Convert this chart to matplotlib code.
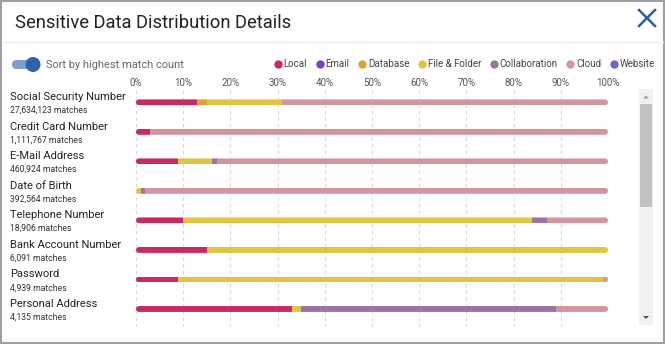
import matplotlib.pyplot as plt
import matplotlib.transforms as mtransforms
from matplotlib.patches import FancyBboxPatch, Rectangle, Circle, Polygon
from matplotlib.lines import Line2D
import numpy as np

plt.rcParams['font.family'] = ['Roboto', 'DejaVu Sans']

# Data
categories = ['Social Security Number', 'Credit Card Number', 'E-Mail Address', 'Date of Birth',
              'Telephone Number', 'Bank Account Number', 'Password', 'Personal Address']
match_counts = [27634123, 1111767, 460924, 392564, 18906, 6091, 4939, 4135]

sources = ['Local', 'Email', 'Database', 'File & Folder', 'Collaboration', 'Cloud', 'Website']
local = [12.9, 3.0, 9.0, 0.0, 10.0, 15.0, 9.0, 33.0]
email = [0, 0, 0, 0, 0, 0, 0, 0]
database = [2.1, 0, 0, 0, 0, 0, 0, 0]
file_folder = [15.9, 0, 7.1, 1.0, 74.0, 85.0, 90.0, 2.0]
collaboration = [0, 0, 1.0, 1.0, 3.1, 0, 0, 54.0]
cloud = [69.1, 97.0, 82.9, 98.0, 12.9, 0, 1.0, 11.0]
website = [0, 0, 0, 0, 0, 0, 0, 0]

ticks = [0, 10, 20, 30, 40, 50, 60, 70, 80, 90, 100]

colors = ['#c92a5f', '#7b3fc8', '#d9a43c', '#e0c442', '#9c74a0', '#d495a0', '#6467d0']
series = [local, email, database, file_folder, collaboration, cloud, website]

W, H = 665, 344
fig = plt.figure(figsize=(W / 100, H / 100), dpi=100)

# overlay in pixel coords for the panel chrome
bg = fig.add_axes([0, 0, 1, 1], zorder=0)
bg.set_xlim(0, W)
bg.set_ylim(H, 0)
bg.axis('off')
bg.add_patch(Rectangle((1, 1), W - 2.5, H - 2.5, fill=False, ec='#a0a0a0', lw=1.5))
bg.plot([2, W - 2], [42, 42], color='#eeeeee', lw=1)
bg.text(15, 23, 'Sensitive Data Distribution Details', fontsize=13.2, color='#222222', va='center')
bg.plot([639, 655], [10, 26], color='#2e5d9e', lw=1.8)
bg.plot([639, 655], [26, 10], color='#2e5d9e', lw=1.8)

# toggle
bg.add_patch(FancyBboxPatch((12, 60), 26, 9, boxstyle='round,pad=0,rounding_size=4.5',
                            fc='#7d9fcf', ec='none'))
bg.add_patch(Circle((33, 64.5), 7.5, fc='#2f62a8', ec='none'))
bg.text(46, 64.5, 'Sort by highest match count', fontsize=7.9, color='#666666', va='center')

# scrollbar
bg.add_patch(Rectangle((639, 89), 14, 236, fc='#f1f1f1', ec='none'))
bg.add_patch(Rectangle((640, 104), 12, 103, fc='#c1c1c1', ec='none'))
bg.add_patch(Polygon([[643, 98.5], [649, 98.5], [646, 95.5]], fc='#a0a0a0', ec='none'))
bg.add_patch(Polygon([[643, 316], [649, 316], [646, 319]], fc='#505050', ec='none'))

# main chart
ax = fig.add_axes([136 / W, (H - 327) / H, 472 / W, 239 / H], zorder=1)
ax.patch.set_alpha(0)
y = np.arange(len(categories))
bar_h = 0.2
aspect = (1 / 29.5) / (100 / 472)

for i in y:
    clip = FancyBboxPatch((0, i - bar_h / 2), 100, bar_h,
                          boxstyle='round,pad=0,rounding_size=%f' % (3 * 100 / 472),
                          mutation_aspect=aspect, fc='none', ec='none',
                          transform=ax.transData)
    ax.add_patch(clip)
    left = 0
    for vals, c in zip(series, colors):
        if vals[i] > 0:
            b = ax.barh(i, vals[i], left=left, height=bar_h, color=c, zorder=3)
            for r in b:
                r.set_clip_path(clip)
            left += vals[i]

ax.set_xlim(0, 100)
ax.set_ylim(7.61, -0.485)
ax.set_xticks(ticks)
ax.set_xticklabels([f'{t}%' for t in ticks])
ax.set_yticks([])
ax.xaxis.tick_top()
ax.tick_params(axis='x', length=0, pad=0, labelsize=7, labelcolor='#555555')
ax.grid(axis='x', color='#d8d8d8', linestyle=(0, (3, 3)), lw=0.8, zorder=0)
for s in ax.spines.values():
    s.set_visible(False)

# row labels
trans = mtransforms.blended_transform_factory(fig.transFigure, ax.transData)
for i, (name, n) in enumerate(zip(categories, match_counts)):
    ax.text(10 / W, i - 0.17, name, transform=trans, fontsize=8, color='#222222', va='center')
    ax.text(10 / W, i + 0.28, f'{n:,} matches', transform=trans, fontsize=6.2,
            color='#333333', va='center')

# legend
handles = [Line2D([], [], marker='o', ls='none', markersize=5, color=c) for c in colors]
fig.legend(handles, sources, loc='center right', bbox_to_anchor=(655 / W, 1 - 64 / H),
           ncol=7, frameon=False, fontsize=7, handlelength=0.6, handletextpad=0.3,
           columnspacing=1.0, labelcolor='#444444', borderpad=0, borderaxespad=0)

fig.savefig('out.png', dpi=100)
